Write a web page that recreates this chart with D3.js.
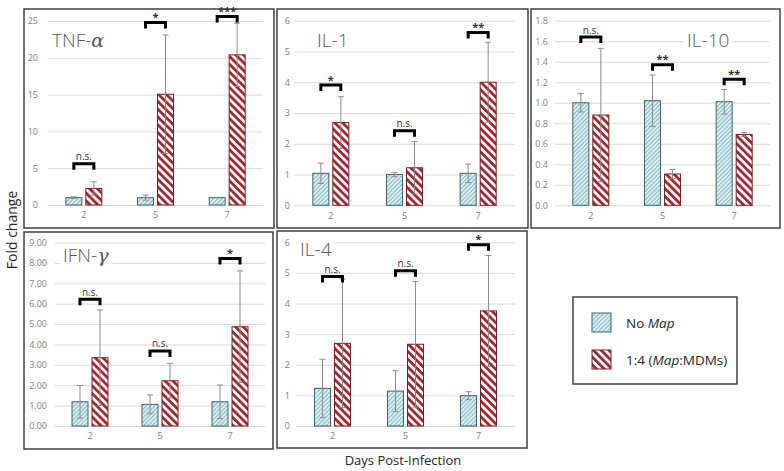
<!DOCTYPE html>
<html><head><meta charset="utf-8">
<script src="https://cdn.jsdelivr.net/npm/d3@7"></script>
<style>body{margin:0;background:#fff} svg{display:block}</style>
</head><body><svg id="c" width="784" height="471"></svg>
<script>
// ---------- DATA ----------
const days = ["2", "5", "7"];
const seriesNames = ["No Map", "1:4 (Map:MDMs)"];

const tnfControl = [1.0, 1.0, 1.0];
const tnfControlErr = [0.1, 0.35, 0.0];
const tnfInfected = [2.25, 15.05, 20.4];
const tnfInfectedErr = [0.9, 8.05, 4.3];
const tnfSigY = [5.6, 24.8, 25.6];
const tnfSig = ["n.s.", "*", "***"];
const tnfTicks = [0, 5, 10, 15, 20, 25];

const il1Control = [1.04, 1.0, 1.04];
const il1ControlErr = [0.33, 0.07, 0.3];
const il1Infected = [2.69, 1.22, 4.0];
const il1InfectedErr = [0.84, 0.85, 1.3];
const il1SigY = [3.91, 2.42, 5.62];
const il1Sig = ["*", "n.s.", "**"];
const il1Ticks = [0, 1, 2, 3, 4, 5, 6];

const il10Control = [1.0, 1.02, 1.01];
const il10ControlErr = [0.09, 0.25, 0.12];
const il10Infected = [0.88, 0.305, 0.69];
const il10InfectedErr = [0.65, 0.045, 0.02];
const il10SigY = [1.64, 1.37, 1.23];
const il10Sig = ["n.s.", "**", "**"];
const il10Ticks = [0, 0.2, 0.4, 0.6, 0.8, 1.0, 1.2, 1.4, 1.6, 1.8];

const ifnControl = [1.19, 1.06, 1.19];
const ifnControlErr = [0.8, 0.46, 0.82];
const ifnInfected = [3.35, 2.22, 4.87];
const ifnInfectedErr = [2.34, 0.85, 2.74];
const ifnSigY = [6.22, 3.68, 8.22];
const ifnSig = ["n.s.", "n.s.", "*"];
const ifnTicks = [0, 1, 2, 3, 4, 5, 6, 7, 8, 9];

const il4Control = [1.23, 1.14, 0.99];
const il4ControlErr = [0.95, 0.67, 0.13];
const il4Infected = [2.70, 2.67, 3.76];
const il4InfectedErr = [2.1, 2.05, 1.81];
const il4SigY = [4.88, 5.07, 5.92];
const il4Sig = ["n.s.", "n.s.", "*"];
const il4Ticks = [0, 1, 2, 3, 4, 5, 6];

// ---------- LAYOUT ----------
const svg = d3.select("#c");
const defs = svg.append("defs");

const pb = defs.append("pattern").attr("id", "pBlue").attr("patternUnits", "userSpaceOnUse")
  .attr("width", 3).attr("height", 3).attr("patternTransform", "rotate(45)");
pb.append("rect").attr("width", 3).attr("height", 3).attr("fill", "#d9eef1");
pb.append("line").attr("x1", 0.5).attr("x2", 0.5).attr("y1", 0).attr("y2", 3)
  .attr("stroke", "#83b9c4").attr("stroke-width", 1);

const pr = defs.append("pattern").attr("id", "pRed").attr("patternUnits", "userSpaceOnUse")
  .attr("width", 5.5).attr("height", 5.5).attr("patternTransform", "rotate(-45)");
pr.append("rect").attr("width", 5.5).attr("height", 5.5).attr("fill", "#ffffff");
pr.append("line").attr("x1", 1.4).attr("x2", 1.4).attr("y1", 0).attr("y2", 5.5)
  .attr("stroke", "#a8252f").attr("stroke-width", 2.8);

const panels = [
  {name: "TNF-", greek: "α", ctrl: tnfControl, ctrlErr: tnfControlErr, inf: tnfInfected, infErr: tnfInfectedErr,
   sigY: tnfSigY, sig: tnfSig, ticks: tnfTicks, fmt: d3.format("d"),
   box: [24, 9, 274, 228], px: [48, 263], py: [205, 21], ymax: 25, labelX: 38, title: [52, 47]},
  {name: "IL-1", greek: "", ctrl: il1Control, ctrlErr: il1ControlErr, inf: il1Infected, infErr: il1InfectedErr,
   sigY: il1SigY, sig: il1Sig, ticks: il1Ticks, fmt: d3.format("d"),
   box: [277, 9, 528, 228], px: [294, 515], py: [205.3, 20.7], ymax: 6, labelX: 290, title: [317, 47]},
  {name: "IL-10", greek: "", ctrl: il10Control, ctrlErr: il10ControlErr, inf: il10Infected, infErr: il10InfectedErr,
   sigY: il10SigY, sig: il10Sig, ticks: il10Ticks, fmt: d3.format(".1f"),
   box: [531, 9, 780, 228], px: [555, 770], py: [205.3, 20.7], ymax: 1.8, labelX: 548, title: [687, 47]},
  {name: "IFN-", greek: "γ", ctrl: ifnControl, ctrlErr: ifnControlErr, inf: ifnInfected, infErr: ifnInfectedErr,
   sigY: ifnSigY, sig: ifnSig, ticks: ifnTicks, fmt: d3.format(".2f"),
   box: [24, 232, 273, 449], px: [55, 265], py: [426, 242.5], ymax: 9, labelX: 47, title: [63, 262]},
  {name: "IL-4", greek: "", ctrl: il4Control, ctrlErr: il4ControlErr, inf: il4Infected, infErr: il4InfectedErr,
   sigY: il4SigY, sig: il4Sig, ticks: il4Ticks, fmt: d3.format("d"),
   box: [277, 231, 527, 448], px: [296, 515], py: [426, 242.3], ymax: 6, labelX: 290, title: [300, 256]}
];

const FONT = "'Open Sans', 'Liberation Sans', sans-serif";

panels.forEach(p => {
  const g = svg.append("g");
  const x = d3.scaleBand().domain(days).range(p.px);
  const y = d3.scaleLinear().domain([0, p.ymax]).range(p.py);

  // frame
  g.append("rect").attr("x", p.box[0]).attr("y", p.box[1])
    .attr("width", p.box[2] - p.box[0]).attr("height", p.box[3] - p.box[1])
    .attr("fill", "#fff").attr("stroke", "#404040").attr("stroke-width", 1.5);

  // y axis (gridlines + labels)
  const yAxis = d3.axisLeft(y).tickValues(p.ticks).tickFormat(p.fmt)
    .tickSize(-(p.px[1] - p.px[0])).tickPadding(p.px[0] - p.labelX);
  const ga = g.append("g").attr("transform", `translate(${p.px[0]},0)`).call(yAxis);
  ga.select(".domain").remove();
  ga.selectAll(".tick line").attr("stroke", "#d9d9d9").attr("stroke-width", 1);
  ga.selectAll(".tick text").attr("fill", "#808080").style("font-family", FONT).style("font-size", "9px");

  // x axis labels
  const xAxis = d3.axisBottom(x).tickSize(0).tickPadding(7);
  const gx = g.append("g").attr("transform", `translate(0,${p.py[0]})`).call(xAxis);
  gx.select(".domain").remove();
  gx.selectAll(".tick text").attr("fill", "#808080").style("font-family", FONT).style("font-size", "9px");

  // title with white background
  const bg = g.append("rect").attr("fill", "#fff");
  const t = g.append("text").attr("x", p.title[0]).attr("y", p.title[1])
    .attr("fill", "#595959").style("font-family", FONT).style("font-size", "19px").style("font-weight", 300);
  t.append("tspan").text(p.name);
  if (p.greek) t.append("tspan").text(p.greek).style("font-family", "'DejaVu Serif', serif").style("font-style", "italic");
  const bb = t.node().getBBox();
  bg.attr("x", bb.x - 3).attr("y", bb.y + 2).attr("width", bb.width + 6).attr("height", bb.height - 5);

  const cx = d => x(d) + x.bandwidth() / 2;
  const bw = 16;

  days.forEach((d, i) => {
    const c = cx(d);
    // control bar
    g.append("rect").attr("x", c - 18).attr("y", y(p.ctrl[i]))
      .attr("width", bw).attr("height", y(0) - y(p.ctrl[i]))
      .attr("fill", "url(#pBlue)").attr("stroke", "#44606a").attr("stroke-width", 1);
    // infected bar
    g.append("rect").attr("x", c + 2).attr("y", y(p.inf[i]))
      .attr("width", bw).attr("height", y(0) - y(p.inf[i]))
      .attr("fill", "url(#pRed)").attr("stroke", "#7d1c22").attr("stroke-width", 1);

    // error bars
    [[c - 10, p.ctrl[i], p.ctrlErr[i]], [c + 10, p.inf[i], p.infErr[i]]].forEach(([ex, v, e]) => {
      if (!e) return;
      const lo = Math.max(0, v - e), hi = v + e;
      g.append("line").attr("x1", ex).attr("x2", ex).attr("y1", y(lo)).attr("y2", y(hi))
        .attr("stroke", "#8c8c8c").attr("stroke-width", 1);
      [lo, hi].forEach(vv => {
        if (vv <= 0) return;
        g.append("line").attr("x1", ex - 3).attr("x2", ex + 3).attr("y1", y(vv)).attr("y2", y(vv))
          .attr("stroke", "#8c8c8c").attr("stroke-width", 1);
      });
    });

    // significance bracket
    const by = y(p.sigY[i]);
    g.append("path").attr("d", `M${c - 10},${by + 6}V${by}H${c + 10}V${by + 6}`)
      .attr("fill", "none").attr("stroke", "#000").attr("stroke-width", 3).attr("stroke-linejoin", "miter");
    const isNs = p.sig[i] === "n.s.";
    g.append("text").attr("x", c).attr("y", isNs ? by - 3.5 : by - 1.5)
      .attr("text-anchor", "middle").attr("fill", "#333")
      .style("font-family", FONT).style("font-size", isNs ? "10px" : "11px").style("font-weight", isNs ? 400 : 700)
      .text(p.sig[i]);
  });
});

// axis titles
svg.append("text").attr("transform", "translate(17,230) rotate(-90)").attr("text-anchor", "middle")
  .attr("fill", "#262626").style("font-family", FONT).style("font-size", "14px").text("Fold change");
svg.append("text").attr("x", 403).attr("y", 465).attr("text-anchor", "middle")
  .attr("fill", "#262626").style("font-family", FONT).style("font-size", "13px").text("Days Post-Infection");

// legend
const lg = svg.append("g");
lg.append("rect").attr("x", 573).attr("y", 297).attr("width", 164).attr("height", 87)
  .attr("fill", "#fff").attr("stroke", "#404040").attr("stroke-width", 1.5);
const legendFills = [["url(#pBlue)", "#44606a"], ["url(#pRed)", "#7d1c22"]];
const legendY = d3.scalePoint().domain(seriesNames).range([322.5, 359.5]);
seriesNames.forEach((s, i) => {
  const cy = legendY(s);
  lg.append("rect").attr("x", 592).attr("y", cy - 9.5).attr("width", 19).attr("height", 19)
    .attr("fill", legendFills[i][0]).attr("stroke", legendFills[i][1]).attr("stroke-width", 1);
  const tx = lg.append("text").attr("x", 626).attr("y", cy + 5)
    .attr("fill", "#262626").style("font-family", FONT).style("font-size", "13.5px");
  if (i === 0) {
    tx.append("tspan").text("No ");
    tx.append("tspan").text("Map").style("font-style", "italic");
  } else {
    tx.append("tspan").text("1:4 (");
    tx.append("tspan").text("Map").style("font-style", "italic");
    tx.append("tspan").text(":MDMs)");
  }
});
</script>
</body></html>
